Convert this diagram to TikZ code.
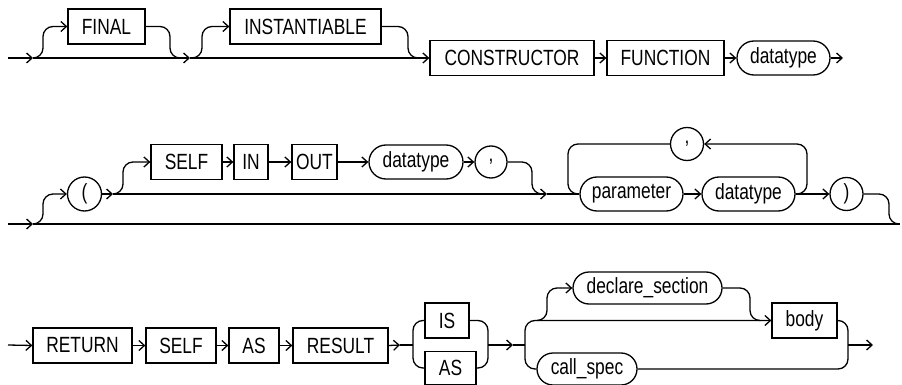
\documentclass[tikz,border=0pt]{standalone}
\usepackage{fontspec}
\setmainfont{Liberation Sans}[FakeStretch=0.79]
\usetikzlibrary{arrows.meta,shapes.misc}
\begin{document}
\begin{tikzpicture}[x=1pt,y=-1pt,
  line width=1.3pt,
  every node/.style={font=\fontsize{22}{22}\selectfont, inner sep=0pt, line width=1.3pt},
  kw/.style={draw, rectangle, minimum height=35pt},
  nt/.style={draw, rounded rectangle, minimum height=34pt},
  ci/.style={draw, circle, minimum size=33pt},
  arr/.style={-{Straight Barb[length=5.5pt,width=10pt]}},
  rc/.style={rounded corners=10pt}]
\useasboundingbox (0,0) rectangle (902,385);

% ---------- Row 1 ----------
\node[kw, minimum width=77pt] (final) at (106.5,26.5) {FINAL};
\node[kw, minimum width=151pt] (inst) at (305.5,26.5) {INSTANTIABLE};
\node[kw, minimum width=164pt] (cons) at (512,58) {CONSTRUCTOR};
\node[kw, minimum width=117pt] (func) at (665.5,58) {FUNCTION};
\node[nt, minimum width=93pt] (dta) at (783.5,58) {datatype};
\coordinate (s1) at (8,58);
\coordinate (b1) at (33,58);
\coordinate (m1) at (190,58);
\coordinate (e1) at (843,58);
\draw[arr] (s1) -- (b1);
\draw[arr] (b1) -- (m1);
\draw[arr] (m1) -- (cons.west);
\draw[rc,arr] (b1) -- (43,58) |- (final.west);
\draw[rc] (final.east) -| (170,58) -- (180,58);
\draw[rc,arr] (m1) -- (202,58) |- (inst.west);
\draw[rc] (inst.east) -| (408,58) -- (418,58);
\draw[arr] (cons.east) -- (func.west);
\draw[arr] (func.east) -- (dta.west);
\draw[arr] (dta.east) -- (e1);

% ---------- Row 2 ----------
\node[ci, minimum size=34pt] (lp) at (84.5,194) {(};
\node[kw, minimum width=71pt] (selfa) at (186.5,162) {SELF};
\node[kw, minimum width=34pt] (in) at (251,162) {IN};
\node[kw, minimum width=45pt] (out) at (314.5,162) {OUT};
\node[nt, minimum width=94pt] (dtb) at (416,162) {datatype};
\node[ci, minimum size=32pt] (ca) at (491,162) {,};
\node[nt, minimum width=103pt] (par) at (631.5,194) {parameter};
\node[nt, minimum width=93pt] (dtc) at (748.5,194) {datatype};
\node[ci] (cb) at (687,144) {,};
\node[ci] (rp) at (846.5,194) {)};
\coordinate (s2) at (8,224);
\coordinate (b2) at (33,224);
\coordinate (e2) at (900,224);
\coordinate (m2) at (113,194);
\coordinate (m3) at (547,194);
\draw[arr] (s2) -- (b2);
\draw (b2) -- (e2);
\draw[rc,arr] (b2) -- (43,224) |- (lp.west);
\draw[arr] (lp.east) -- (m2);
\draw[arr] (m2) -- (m3);
\draw (m3) -- (par.west);
\draw[rc,arr] (m2) -- (123,194) |- (selfa.west);
\draw[arr] (selfa.east) -- (in.west);
\draw[arr] (in.east) -- (out.west);
\draw[arr] (out.east) -- (dtb.west);
\draw[arr] (dtb.east) -- (ca.west);
\draw[rc] (ca.east) -| (532,194) -- (542,194);
\draw[rc] (cb.west) -| (568,194) -- (578,194);
\draw[rc,arr] (dtc.east) -| (807,144) -- (cb.east);
\draw[arr] (par.east) -- (dtc.west);
\draw[arr] (dtc.east) -- (rp.west);
\draw[rc] (rp.east) -| (889,224) -- (899,224);

% ---------- Row 3 ----------
\node[kw, minimum width=99pt] (ret) at (82.5,345.5) {RETURN};
\node[kw, minimum width=70pt] (selfb) at (181,345.5) {SELF};
\node[kw, minimum width=50pt] (asa) at (254,345.5) {AS};
\node[kw, minimum width=95pt] (res) at (340.5,345.5) {RESULT};
\node[kw, minimum width=44pt] (is) at (447,320.5) {IS};
\node[kw, minimum width=51pt, minimum height=33pt] (asb) at (450.5,368) {AS};
\node[nt, minimum width=149pt, minimum height=32pt] (decl) at (647.5,288) {declare\_section};
\node[kw, minimum width=65pt] (body) at (804.5,320.5) {body};
\node[nt, minimum width=100pt, minimum height=32pt] (cs) at (587,369) {call\_spec};
\coordinate (s3) at (8,345);
\coordinate (m4) at (400,345);
\coordinate (m5) at (513,345);
\coordinate (e3) at (873,345);
\draw[arr] (s3) -- (ret.west);
\draw[arr] (ret.east) -- (selfb.west);
\draw[arr] (selfb.east) -- (asa.west);
\draw[arr] (asa.east) -- (res.west);
\draw[arr] (res.east) -- (m4);
\draw (m4) -- (413,345);
\draw[rc] (is.west) -| (413,345) |- (asb.west);
\draw[rc] (is.east) -| (488,345) |- (asb.east);
\draw[arr] (488,345) -- (m5);
\draw (m5) -- (525,345);
\draw[rc,arr] (cs.west) -| (525,345) |- (body.west);
\draw[rc,arr] (537,320.5) -- (547,320.5) |- (decl.west);
\draw[rc] (decl.east) -| (750,320.5) -- (760,320.5);
\draw[rc] (body.east) -| (848,345) |- (cs.east);
\draw[arr] (848,345) -- (e3);
\end{tikzpicture}
\end{document}
